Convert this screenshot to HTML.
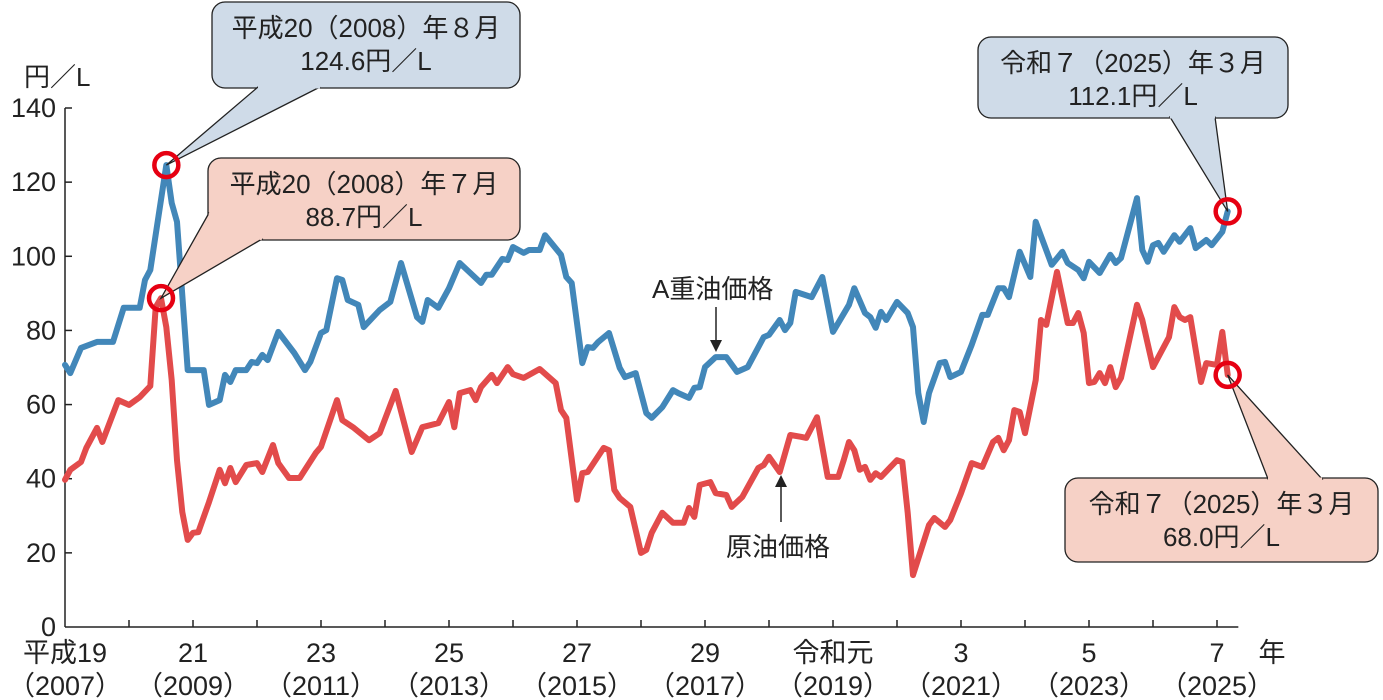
<!DOCTYPE html>
<html><head><meta charset="utf-8">
<style>
html,body{margin:0;padding:0;background:#fff;}
svg{display:block;font-family:"Liberation Sans","Noto Sans CJK JP",sans-serif;}
</style></head>
<body>
<svg id="chart" width="1383" height="700" viewBox="0 0 1383 700" xmlns="http://www.w3.org/2000/svg">
<g id="axes"></g>
<g id="series"></g>
<g id="annot"></g>
</svg>
<script>
// month index from Jan 2007 (0) ; values in 円/L
const heavyMonths=[0,1,3,6,9,11,14,15,16,19,20,21,23,26,27,29,30,31,32,34,35,36,37,38,40,43,45,46,48,49,51,52,53,55,56,59,61,63,66,67,68,70,72,74,78,79,80,82,83,84,86,87,89,90,93,94,95,97,98,99,100,102,104,105,107,109,110,112,114,115,117,118,119,120,122,124,126,128,131,132,134,135,136,137,140,142,144,147,148,150,151,152,153,154,156,158,159,160,161,162,164,165,166,168,170,172,173,175,176,177,179,181,182,185,187,188,190,191,192,194,196,197,198,201,202,203,204,205,206,208,209,211,212,214,215,217,218];
const heavyValues=[70.7,68.5,75.3,76.9,76.9,86.1,86.1,93.6,96.3,124.6,114.4,109.3,69.3,69.3,59.9,61.2,68.0,66.1,69.3,69.3,71.5,71.2,73.4,72.0,79.6,73.9,69.3,71.5,79.3,80.1,94.1,93.6,88.2,86.9,80.9,85.5,87.7,98.2,83.6,82.3,88.2,86.1,91.4,98.2,92.8,95.0,95.0,99.3,99.0,102.5,100.9,101.7,101.7,105.7,100.4,94.4,92.8,71.2,75.5,75.3,76.9,79.3,69.9,67.4,68.5,57.7,56.4,59.3,63.9,63.1,61.8,64.5,64.7,70.1,72.8,72.8,68.8,70.1,78.2,78.8,82.8,80.1,82.0,90.4,89.0,94.4,79.6,86.9,91.4,84.7,83.6,80.7,85.0,82.8,87.7,84.7,80.9,63.1,55.3,63.1,71.2,71.5,67.4,68.8,76.1,84.2,84.2,91.4,91.4,89.0,101.2,94.4,109.3,97.7,101.2,98.2,96.3,94.1,98.5,95.5,100.4,98.2,99.5,115.7,101.7,98.5,103.0,103.6,101.2,105.7,103.9,107.6,102.2,104.4,103.0,106.6,112.1];
const crudeMonths=[0,1,3,4,6,7,10,12,14,16,17,18,19,20,21,22,23,24,25,27,29,30,31,32,34,36,37,39,40,42,44,47,48,51,52,54,57,59,62,65,67,70,72,73,74,76,77,78,80,81,83,84,86,89,92,93,94,96,97,98,101,102,103,104,106,108,109,110,112,114,116,117,118,119,121,122,124,125,127,130,131,132,134,136,138,139,141,143,145,146,147,148,149,150,151,152,153,156,157,158,159,162,163,165,166,168,170,172,174,175,176,177,178,179,180,182,183,184,186,188,189,190,191,192,193,194,195,196,197,198,201,202,204,207,208,209,210,211,213,214,216,217,218];
const crudeValues=[39.7,42.4,44.5,48.3,53.7,49.9,61.2,59.9,62.0,65.0,86.3,88.7,80.9,66.6,45.0,31.0,23.5,25.4,25.6,33.7,42.4,38.8,42.9,39.1,43.7,44.2,41.8,49.1,44.2,40.2,40.2,46.9,48.6,61.2,55.8,53.9,50.4,52.3,63.7,47.2,53.9,55.0,60.7,53.9,63.1,63.9,61.2,64.7,68.0,65.8,70.1,68.2,67.2,69.6,65.8,58.5,56.4,34.3,41.5,41.8,48.3,47.7,37.0,34.8,32.4,20.0,20.8,25.4,30.8,28.1,28.1,32.1,29.7,38.3,39.1,36.1,35.6,32.4,35.1,42.9,43.7,45.9,41.8,51.8,51.3,51.0,56.6,40.5,40.5,45.0,49.9,47.7,42.4,43.2,39.7,41.5,40.5,45.0,44.5,30.8,14.0,27.5,29.4,27.0,28.9,36.1,44.2,43.2,49.9,51.0,47.7,50.4,58.5,58.0,52.3,66.6,82.8,81.5,95.8,82.0,82.0,84.7,79.3,65.8,66.1,68.5,65.8,70.1,64.7,67.2,86.9,82.8,70.1,78.2,86.3,83.6,82.8,83.6,66.1,71.2,70.7,79.6,68.0];
const yTicks=[0,20,40,60,80,100,120,140];
const xLabelTop=["平成19","21","23","25","27","29","令和元","3","5","7"];
const xLabelBottom=["（2007）","（2009）","（2011）","（2013）","（2015）","（2017）","（2019）","（2021）","（2023）","（2025）"];

const NS="http://www.w3.org/2000/svg";
const X0=65,PX_PER_MONTH=64/12,Y0=627,PX_PER_UNIT=(627-108)/140;
const xs=m=>X0+m*PX_PER_MONTH;
const ys=v=>Y0-v*PX_PER_UNIT;
function mk(tag,attrs,parent,text){const e=document.createElementNS(NS,tag);for(const k in attrs)e.setAttribute(k,attrs[k]);if(text!==undefined)e.textContent=text;parent.appendChild(e);return e;}

const axes=document.getElementById('axes');
let e;
e=mk('line',{x1:X0,y1:ys(0),x2:X0,y2:ys(140),stroke:'#222','stroke-width':1.5},axes);


e=mk('line',{x1:X0,y1:Y0,x2:xs(220),y2:Y0,stroke:'#222','stroke-width':1.5},axes);


yTicks.forEach(v=>{
  if(v>0){e=mk('line',{x1:X0,y1:ys(v),x2:X0+7,y2:ys(v),stroke:'#222','stroke-width':1.5},axes);
  
  }
  e=mk('text',{x:56,y:ys(v)+9,'text-anchor':'end','font-size':27,fill:'#222'},axes,String(v));
  
  
});
for(let yr=1;yr<=18;yr++){
  e=mk('line',{x1:xs(yr*12),y1:Y0,x2:xs(yr*12),y2:Y0-7,stroke:'#222','stroke-width':1.5},axes);
  
  
}
xLabelTop.forEach((t,i)=>{
  const cx=xs(i*24);
  e=mk('text',{x:cx,y:662,'text-anchor':'middle','font-size':27,fill:'#222'},axes,t);
  
  
  e=mk('text',{x:cx,y:695,'text-anchor':'middle','font-size':27,fill:'#222'},axes,xLabelBottom[i]);
  
  
});
e=mk('text',{x:1272,y:662,'text-anchor':'middle','font-size':27,fill:'#222'},axes,'年');


e=mk('text',{x:24,y:86,'font-size':26,fill:'#222'},axes,'円／L');



const ser=document.getElementById('series');
function line(ms,vs,color,name){
  const d=ms.map((m,i)=>(i?'L':'M')+xs(m).toFixed(1)+','+ys(vs[i]).toFixed(1)).join(' ');
  const p=mk('path',{d:d,fill:'none',stroke:color,'stroke-width':6,'stroke-linejoin':'round','stroke-linecap':'round'},ser);
  
  
}
line(crudeMonths,crudeValues,'#e24b4b','crude-oil-price-line');
line(heavyMonths,heavyValues,'#4287b9','heavy-oil-a-price-line');

const an=document.getElementById('annot');
function bubble(bx,by,bw,bh,t1,t2,tx1,tx2,px,py,fill,name){
  const g=mk('g',{},an);
  
  
  mk('rect',{x:bx,y:by,width:bw,height:bh,rx:13,fill:fill,stroke:'#222','stroke-width':1.3},g);
  mk('polygon',{points:`${tx1[0]},${tx1[1]} ${px},${py} ${tx2[0]},${tx2[1]}`,fill:fill,stroke:'#222','stroke-width':1.3},g);
  mk('line',{x1:tx1[0],y1:tx1[1],x2:tx2[0],y2:tx2[1],stroke:fill,'stroke-width':3},g);
  mk('text',{x:bx+bw/2,y:by+35,'text-anchor':'middle','font-size':26,fill:'#222'},g,t1);
  mk('text',{x:bx+bw/2,y:by+68,'text-anchor':'middle','font-size':26,fill:'#222'},g,t2);
}
const pk1=[xs(19),ys(124.6)],pk2=[xs(18),ys(88.7)],l1=[xs(218),ys(112.1)],l2=[xs(218),ys(68.0)];
bubble(212,2,308,86,'平成20（2008）年８月','124.6円／L',[258,87],[320,87],pk1[0],pk1[1],'#cfdbe8','callout-heavy-peak');
bubble(208,158,312,82,'平成20（2008）年７月','88.7円／L',[209,213],[262,239],pk2[0],pk2[1],'#f6d1c6','callout-crude-peak');
bubble(978,37,310,81,'令和７（2025）年３月','112.1円／L',[1170,117],[1215,117],l1[0],l1[1],'#cfdbe8','callout-heavy-latest');
bubble(1065,478,313,84,'令和７（2025）年３月','68.0円／L',[1268,479],[1322,479],l2[0],l2[1],'#f6d1c6','callout-crude-latest');
[pk1,pk2,l1,l2].forEach(p=>{
  e=mk('circle',{cx:p[0],cy:p[1],r:12,fill:'none',stroke:'#e60012','stroke-width':4.5},an);
  
  
});
// series labels
e=mk('text',{x:652,y:298,'font-size':26,fill:'#222'},an,'A重油価格');


mk('line',{x1:716,y1:307,x2:716,y2:343,stroke:'#222','stroke-width':1.5},an);
mk('polygon',{points:'710,340 722,340 716,352',fill:'#222'},an);
e=mk('text',{x:726,y:556,'font-size':26,fill:'#222'},an,'原油価格');


mk('line',{x1:781,y1:522,x2:781,y2:484,stroke:'#222','stroke-width':1.5},an);
mk('polygon',{points:'775,487 787,487 781,475',fill:'#222'},an);
</script>
</body></html>
